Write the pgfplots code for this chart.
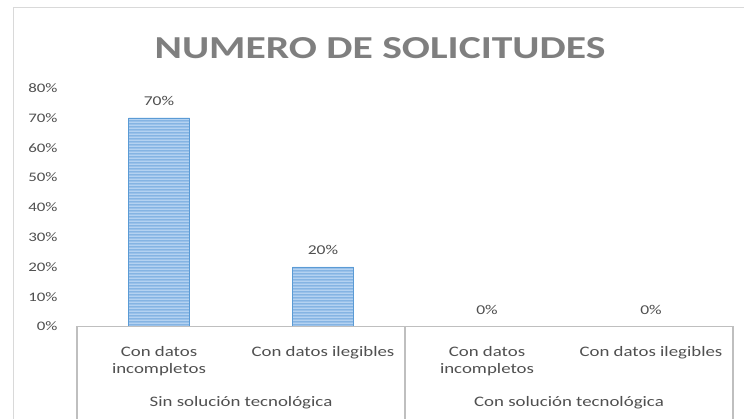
\documentclass[border=0pt]{standalone}
\usepackage{fontspec}
\setmainfont{Carlito}[FakeStretch=1.3]
\usepackage{pgfplots}
\pgfplotsset{compat=1.18}
\usetikzlibrary{patterns}
\pgfdeclarepatternformonly{hstripes}{\pgfpointorigin}{\pgfqpoint{400pt}{3pt}}{\pgfqpoint{400pt}{3pt}}{%
  \pgfsetlinewidth{1.5pt}%
  \pgfpathmoveto{\pgfqpoint{-1pt}{1.5pt}}%
  \pgfpathlineto{\pgfqpoint{401pt}{1.5pt}}%
  \pgfusepath{stroke}}
\definecolor{txt}{HTML}{505050}
\definecolor{ttl}{HTML}{7F7F7F}
\definecolor{axg}{HTML}{BFBFBF}
\definecolor{brd}{HTML}{D9D9D9}
\definecolor{barfill}{HTML}{B4D2F1}
\definecolor{barline}{HTML}{6CA4DC}
\definecolor{baredge}{HTML}{5B9BD5}
\begin{document}
\begin{tikzpicture}
\clip (0pt,0pt) rectangle (744pt,419pt);
\fill[white] (0pt,0pt) rectangle (744pt,419pt);
\draw[brd, line width=1pt] (13pt,0pt) -- (13pt,411.5pt) -- (744pt,411.5pt);
\node[anchor=base, text=ttl, inner sep=0pt, font=\fontsize{32}{38}\selectfont\bfseries] at (380pt,360.7pt) {NUMERO DE SOLICITUDES};
\begin{axis}[
 at={(77pt,92.5pt)}, anchor=south west,
 scale only axis, width=656pt, height=238.5pt,
 xmin=-0.5, xmax=3.5, ymin=0, ymax=80,
 clip=false,
 axis line style={draw=none},
 tick style={draw=none},
 ytick={0,10,...,80},
 yticklabel={\pgfmathprintnumber{\tick}\%},
 yticklabel style={font=\fontsize{13}{15}\selectfont, text=txt, xshift=-16pt},
 xtick={0,1,2,3},
 xticklabels={{Con datos\\incompletos},{Con datos ilegibles},{Con datos\\incompletos},{Con datos ilegibles}},
 xticklabel style={font=\fontsize{14.5}{17.5}\selectfont, text=txt, align=center, anchor=north, yshift=-12pt},
 extra x ticks={0.5,2.5},
 extra x tick labels={Sin solución tecnológica, Con solución tecnológica},
 extra x tick style={xticklabel style={yshift=-50.5pt}},
 /pgf/number format/assume math mode=true,
 ybar, bar width=61pt,
 nodes near coords={\pgfmathprintnumber{\pgfplotspointmeta}\%},
 every node near coord/.append style={font=\fontsize{13.5}{16}\selectfont, text=txt, yshift=8.5pt},
]
\addplot[draw=baredge, line width=0.6pt, fill=barfill, postaction={pattern color=barline, pattern=hstripes}] coordinates {(0,70) (1,20) (2,0) (3,0)};
\draw[axg, line width=1.2pt] (axis cs:-0.5,0) -- (axis cs:3.5,0);
\draw[axg, line width=1.2pt] (axis cs:-0.5,0) -- ++(0pt,-120pt);
\draw[axg, line width=1.2pt] (axis cs:1.5,0) -- ++(0pt,-120pt);
\draw[axg, line width=1.2pt] (axis cs:3.5,0) -- ++(0pt,-120pt);
\end{axis}
\end{tikzpicture}
\end{document}
